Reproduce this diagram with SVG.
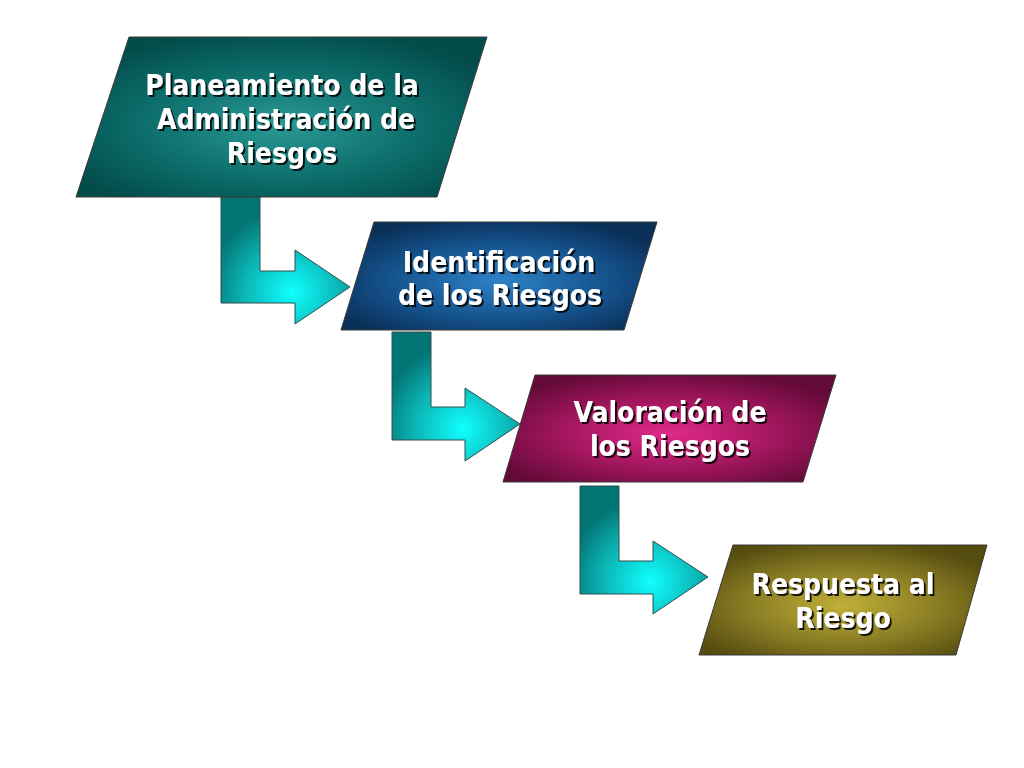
<svg xmlns="http://www.w3.org/2000/svg" width="1024" height="768" viewBox="0 0 1024 768">
<defs>
  <radialGradient id="gTeal" cx="50%" cy="55%" r="60%">
    <stop offset="0" stop-color="#2a9a96"/>
    <stop offset="0.6" stop-color="#0b6b68"/>
    <stop offset="1" stop-color="#034c4a"/>
  </radialGradient>
  <radialGradient id="gBlue" cx="50%" cy="55%" r="60%">
    <stop offset="0" stop-color="#2e82c8"/>
    <stop offset="0.6" stop-color="#14518a"/>
    <stop offset="1" stop-color="#0a2f58"/>
  </radialGradient>
  <radialGradient id="gMag" cx="50%" cy="55%" r="60%">
    <stop offset="0" stop-color="#e02a8a"/>
    <stop offset="0.6" stop-color="#9a1458"/>
    <stop offset="1" stop-color="#620a38"/>
  </radialGradient>
  <radialGradient id="gOlive" cx="50%" cy="55%" r="60%">
    <stop offset="0" stop-color="#c0b038"/>
    <stop offset="0.6" stop-color="#857822"/>
    <stop offset="1" stop-color="#554c10"/>
  </radialGradient>
  <radialGradient id="gArrow" cx="55%" cy="75%" r="65%">
    <stop offset="0" stop-color="#10ffff"/>
    <stop offset="0.55" stop-color="#0cb8b8"/>
    <stop offset="1" stop-color="#037575"/>
  </radialGradient>
  <filter id="shadow" x="-10%" y="-20%" width="120%" height="140%">
    <feDropShadow dx="2" dy="2" stdDeviation="0.6" flood-color="#000000" flood-opacity="0.85"/>
  </filter>
</defs>
<style>
  .box { stroke: #3a3a3a; stroke-width: 1; }
  .arrow { fill: url(#gArrow); stroke: #2e4e4e; stroke-width: 1; }
  .label { font-family: "DejaVu Sans Condensed", "DejaVu Sans", Verdana, sans-serif; font-weight: bold; font-size: 28px; fill: #ffffff; text-anchor: middle; filter: url(#shadow); }
</style>
<rect width="1024" height="768" fill="#ffffff"/>

<g id="connectors">
  <path class="arrow" d="M221,197 L260,197 L260,271 L295,271 L295,250 L350,287 L295,324 L295,303 L221,303 Z"/>
  <path class="arrow" d="M392,332 L431,332 L431,407 L465,407 L465,388 L520,424 L465,461 L465,440 L392,440 Z"/>
  <path class="arrow" d="M580,486 L619,486 L619,561 L653,561 L653,541 L708,577 L653,614 L653,594 L580,594 Z"/>
</g>

<g id="node-planeamiento">
  <polygon class="box" fill="url(#gTeal)" points="129,37 487,37 437,197 76,197"/>
  <text class="label" x="282" y="95">Planeamiento de la</text>
  <text class="label" x="286" y="129">Administración de</text>
  <text class="label" x="282" y="163">Riesgos</text>
</g>

<g id="node-identificacion">
  <polygon class="box" fill="url(#gBlue)" points="374,222 657,222 624,330 341,330"/>
  <text class="label" x="499" y="272">Identificación</text>
  <text class="label" x="500" y="305">de los Riesgos</text>
</g>

<g id="node-valoracion">
  <polygon class="box" fill="url(#gMag)" points="535,375 836,375 803,482 503,482"/>
  <text class="label" x="670" y="422">Valoración de</text>
  <text class="label" x="670" y="456">los Riesgos</text>
</g>

<g id="node-respuesta">
  <polygon class="box" fill="url(#gOlive)" points="733,545 987,545 956,655 699,655"/>
  <text class="label" x="843" y="594">Respuesta al</text>
  <text class="label" x="843" y="628">Riesgo</text>
</g>
</svg>
